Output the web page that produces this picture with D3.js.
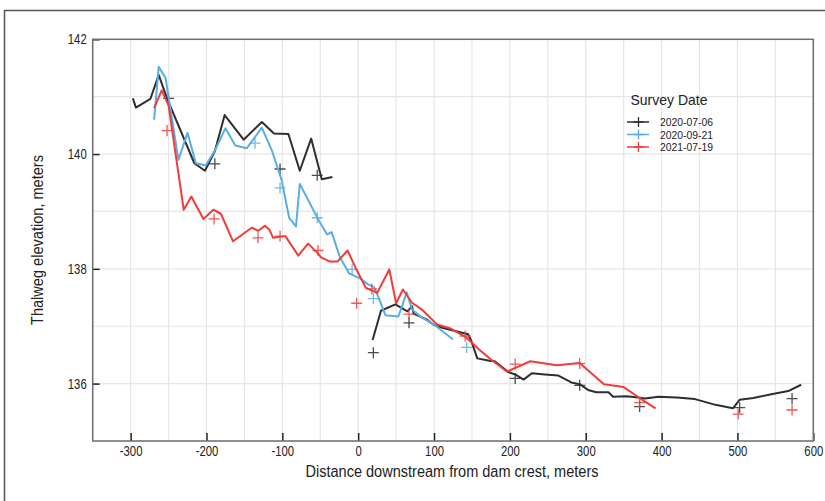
<!DOCTYPE html>
<html>
<head>
<meta charset="utf-8">
<script src="https://d3js.org/d3.v7.min.js"></script>
<style>
  body { margin: 0; background: #fff; }
  svg text { font-family: "Liberation Sans", Arial, sans-serif; fill: #222; }
</style>
</head>
<body>
<div id="chart"></div>
<script>
'use strict';

// survey 2020-07-06 line, two pieces (gap around the dam)
var line0706a = [[-297, 140.97], [-293, 140.81], [-274, 140.96], [-263, 141.38], [-252, 140.97],
  [-216, 139.84], [-202, 139.71], [-189, 140.05], [-176, 140.68], [-151, 140.25], [-127, 140.56],
  [-111, 140.36], [-92, 140.35], [-77, 139.71], [-62, 140.27], [-48, 139.56], [-34, 139.6]];
var line0706b = [[19, 136.76], [30, 137.27], [49, 137.38], [65, 137.26], [71, 137.35], [73, 137.22],
  [90, 137.12], [99, 137.03], [112, 136.97], [145, 136.86], [149, 136.75], [157, 136.44],
  [173, 136.4], [180, 136.39], [198, 136.2], [207, 136.16], [218, 136.07], [229, 136.18],
  [246, 136.16], [264, 136.14], [281, 136.02], [292, 135.99], [303, 135.89], [314, 135.85],
  [330, 135.85], [336, 135.77], [354, 135.78], [369, 135.76], [378, 135.74], [396, 135.77],
  [420, 135.76], [444, 135.73], [471, 135.63], [494, 135.57], [503, 135.72], [521, 135.75],
  [543, 135.81], [567, 135.87], [584, 135.98]];
var pts0706 = [[-250, 140.97], [-189, 139.83], [-103, 139.74], [-54, 139.63], [20, 136.54],
  [67, 137.06], [207, 136.09], [292, 135.97], [371, 135.6], [503, 135.58], [572, 135.74]];

var line0921 = [[-269, 140.6], [-263, 141.52], [-254, 141.33], [-237, 139.9], [-225, 140.37],
  [-214, 139.84], [-201, 139.8], [-189, 140.06], [-175, 140.45], [-162, 140.15], [-147, 140.1],
  [-127, 140.46], [-114, 140.07], [-101, 139.55], [-91, 138.89], [-82, 138.74], [-77, 139.48],
  [-53, 138.87], [-41, 138.6], [-35, 138.64], [-24, 138.2], [-12, 137.92], [3, 137.83],
  [13, 137.73], [21, 137.68], [27, 137.5], [36, 137.19], [53, 137.17], [64, 137.59], [71, 137.29],
  [84, 137.15], [100, 137.03], [125, 136.77]];
var pts0921 = [[-136, 140.19], [-103, 139.41], [-54, 138.89], [-8, 137.99], [20, 137.48], [143, 136.63]];

var line0719 = [[-269, 140.8], [-259, 141.11], [-250, 140.85], [-230, 139.03], [-220, 139.26],
  [-204, 138.87], [-191, 139.03], [-181, 138.96], [-165, 138.48], [-140, 138.72], [-132, 138.66],
  [-123, 138.75], [-117, 138.68], [-112, 138.54], [-96, 138.57], [-79, 138.23], [-66, 138.44],
  [-53, 138.27], [-49, 138.2], [-38, 138.13], [-27, 138.13], [-14, 138.32], [-2, 137.98],
  [10, 137.67], [25, 137.58], [41, 137.99], [50, 137.4], [59, 137.64], [71, 137.41], [84, 137.29],
  [104, 137.03], [122, 136.96], [143, 136.8], [159, 136.6], [175, 136.42], [196, 136.21],
  [227, 136.39], [262, 136.32], [292, 136.36], [324, 135.99], [350, 135.94], [372, 135.74],
  [392, 135.57]];
var pts0719 = [[-252, 140.41], [-190, 138.87], [-132, 138.54], [-103, 138.57], [-53, 138.32],
  [-2, 137.4], [18, 137.65], [67, 137.21], [141, 136.83], [207, 136.34], [292, 136.35],
  [371, 135.67], [501, 135.47], [572, 135.54]];

var xTicks = [-300, -200, -100, 0, 100, 200, 300, 400, 500, 600];
var yTicks = [136, 138, 140, 142];
var legendNames = ['2020-07-06', '2020-09-21', '2021-07-19'];
var colors = ['#2e2e2e', '#5aaee3', '#ee3d3a'];

var width = 825, height = 501;
var plotLeft = 92.7, plotRight = 813.3, plotTop = 39.3, plotBottom = 441;

// squeeze text horizontally so it reads like a condensed face
var squeeze = function (sel, f) {
  sel.each(function () {
    var w = this.getComputedTextLength();
    d3.select(this).attr('textLength', w * f).attr('lengthAdjust', 'spacingAndGlyphs');
  });
};

var svg = d3.select('#chart').append('svg')
  .attr('width', width)
  .attr('height', height);

// outer frame (top and left edges)
svg.append('path')
  .attr('d', 'M4.5,' + height + 'V10.5H' + width)
  .style('fill', 'none')
  .style('stroke', '#555')
  .style('stroke-width', 1.5);

var x = d3.scaleLinear().domain([-350, 600]).range([plotLeft, plotRight]);
var y = d3.scaleLinear().domain([135, 142]).range([plotBottom, plotTop]);

// grid
svg.append('g').selectAll('line')
  .data(d3.range(-350, 601, 50))
  .enter().append('line')
  .attr('x1', function (d) { return x(d); })
  .attr('x2', function (d) { return x(d); })
  .attr('y1', plotTop).attr('y2', plotBottom)
  .style('stroke', '#e6e6e6').style('stroke-width', 1.2);
svg.append('g').selectAll('line')
  .data(d3.range(135, 142.1, 1))
  .enter().append('line')
  .attr('y1', function (d) { return y(d); })
  .attr('y2', function (d) { return y(d); })
  .attr('x1', plotLeft).attr('x2', plotRight)
  .style('stroke', '#e6e6e6').style('stroke-width', 1.2);

// axes, ticks pointing inward
var xAxis = svg.append('g')
  .attr('transform', 'translate(0,' + plotBottom + ')')
  .call(d3.axisBottom(x).tickValues(xTicks).tickSizeInner(-8).tickSizeOuter(0).tickPadding(5)
    .tickFormat(function (d) { return String(d); }));
var yAxis = svg.append('g')
  .attr('transform', 'translate(' + plotLeft + ',0)')
  .call(d3.axisLeft(y).tickValues(yTicks).tickSizeInner(-7).tickSizeOuter(0).tickPadding(6)
    .tickFormat(function (d) { return String(d); }));
[xAxis, yAxis].forEach(function (a) {
  a.select('.domain').remove();
  a.selectAll('line').style('stroke', '#222').style('stroke-width', 1.5);
  a.selectAll('text').style('font-size', '14.5px').style('fill', '#222').call(squeeze, 0.78);
});

// plot box
svg.append('rect')
  .attr('x', plotLeft).attr('y', plotTop)
  .attr('width', plotRight - plotLeft).attr('height', plotBottom - plotTop)
  .style('fill', 'none')
  .style('stroke', '#6e6e6e')
  .style('stroke-width', 1.5);

var line = d3.line()
  .x(function (d) { return x(d[0]); })
  .y(function (d) { return y(d[1]); });

var series = [
  { lines: [line0706a, line0706b], pts: pts0706, color: colors[0] },
  { lines: [line0921], pts: pts0921, color: colors[1] },
  { lines: [line0719], pts: pts0719, color: colors[2] }
];

var crossPath = function (cx, cy, r) {
  return 'M' + (cx - r) + ',' + cy + 'H' + (cx + r) + 'M' + cx + ',' + (cy - r) + 'V' + (cy + r);
};

series.forEach(function (s) {
  s.lines.forEach(function (l) {
    svg.append('path')
      .datum(l)
      .attr('d', line)
      .style('fill', 'none')
      .style('stroke', s.color)
      .style('stroke-width', 2)
      .style('stroke-linejoin', 'round');
  });
  svg.append('g').selectAll('path')
    .data(s.pts)
    .enter().append('path')
    .attr('d', function (d) { return crossPath(x(d[0]), y(d[1]), 5.5); })
    .style('stroke', s.color)
    .style('stroke-width', 1.3)
    .style('opacity', 0.85);
});

// axis titles
svg.append('text')
  .attr('x', 452)
  .attr('y', 477)
  .attr('text-anchor', 'middle')
  .style('font-size', '16px')
  .text('Distance downstream from dam crest, meters')
  .attr('textLength', 293)
  .attr('lengthAdjust', 'spacingAndGlyphs');
svg.append('text')
  .attr('transform', 'translate(43,' + 240 + ') rotate(-90)')
  .attr('text-anchor', 'middle')
  .style('font-size', '16px')
  .text('Thalweg elevation, meters')
  .attr('textLength', 170)
  .attr('lengthAdjust', 'spacingAndGlyphs');

// legend
var legend = svg.append('g').attr('transform', 'translate(627,0)');
legend.append('text')
  .attr('x', 3.5).attr('y', 104.5)
  .style('font-size', '14.5px')
  .text('Survey Date')
  .attr('textLength', 77)
  .attr('lengthAdjust', 'spacingAndGlyphs');
legendNames.forEach(function (name, i) {
  var ly = 122 + i * 12.5;
  legend.append('line')
    .attr('x1', 0).attr('x2', 22).attr('y1', ly).attr('y2', ly)
    .style('stroke', colors[i]).style('stroke-width', 1.5);
  legend.append('path')
    .attr('d', crossPath(11.5, ly, 5))
    .style('stroke', colors[i]).style('stroke-width', 1.3);
  legend.append('text')
    .attr('x', 33).attr('y', ly + 4)
    .style('font-size', '11px')
    .text(name)
    .attr('textLength', 53)
    .attr('lengthAdjust', 'spacingAndGlyphs');
});
</script>
</body>
</html>
